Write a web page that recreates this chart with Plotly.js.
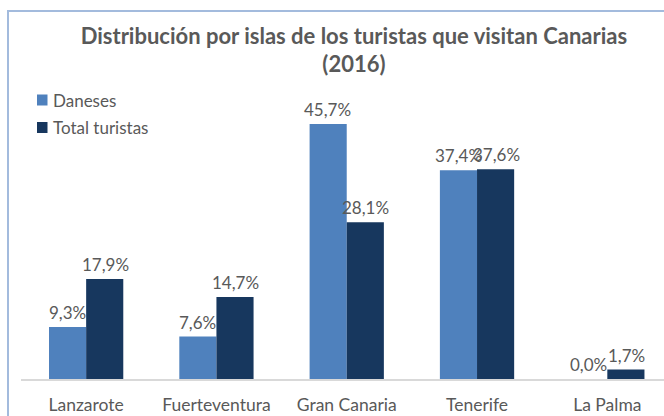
<!DOCTYPE html>
<html>
<head>
<meta charset="utf-8">
<script src="https://cdn.plot.ly/plotly-3.0.1.min.js"></script>
<style>
html,body{margin:0;padding:0;background:#fff;overflow:hidden;}
#wrap{position:relative;width:664px;height:416px;}
#chart{position:absolute;left:0;top:0;width:664px;height:416px;}
#frame{position:absolute;left:7px;top:10px;width:700px;height:450px;border-left:2px solid #a3bbdd;border-top:2px solid #a3bbdd;pointer-events:none;}
</style>
</head>
<body>
<div id="wrap"><div id="chart"></div><div id="frame"></div></div>
<script>
const islands = ["Lanzarote", "Fuerteventura", "Gran Canaria", "Tenerife", "La Palma"];
const daneses = [9.3, 7.6, 45.7, 37.4, 0.0];
const totalTuristas = [17.9, 14.7, 28.1, 37.6, 1.7];
const seriesNames = ["Daneses", "Total turistas"];
const seriesColors = ["#4f81bd", "#17375e"];

const FONT = "Lato, 'Liberation Sans', Arial, sans-serif";
const txtColor = "#595959";

// plot area geometry (pixels)
const L = 21, T = 100, B = 37, W = 664, H = 416;
const PW = W - L, PH = H - T - B;
const px2x = p => (p - L) / PW;
const px2y = p => (H - B - p) / PH;

const traces = [
  {type:"bar", name:seriesNames[0], x:islands, y:daneses, marker:{color:seriesColors[0]}, hoverinfo:"none"},
  {type:"bar", name:seriesNames[1], x:islands, y:totalTuristas, marker:{color:seriesColors[1]}, hoverinfo:"none"}
];

const fmt = v => v.toFixed(1).replace(".", ",") + "%";
const annotations = [];
[daneses, totalTuristas].forEach((vals, s) => {
  vals.forEach((v, i) => {
    annotations.push({x:islands[i], y:v, xref:"x", yref:"y", text:fmt(v), showarrow:false,
      xanchor:"center", yanchor:"bottom", xshift:(s === 0 ? -19 : 19), yshift:2,
      font:{family:FONT, size:17, color:txtColor}});
  });
});

// custom legend
const shapes = [];
const legY = [100, 127.5];
seriesNames.forEach((n, k) => {
  shapes.push({type:"rect", xref:"paper", yref:"paper", x0:px2x(37), x1:px2x(47.5),
    y0:px2y(legY[k] + 5.5), y1:px2y(legY[k] - 5.5), fillcolor:seriesColors[k], line:{width:0}});
  annotations.push({xref:"paper", yref:"paper", x:px2x(51), y:px2y(legY[k]), text:n, showarrow:false,
    xanchor:"left", yanchor:"middle", font:{family:FONT, size:17, color:txtColor}});
});

const layout = {
  width:W, height:H,
  margin:{l:L, r:0, t:T, b:B, pad:0},
  paper_bgcolor:"#fff", plot_bgcolor:"#fff",
  barmode:"group", bargap:0.43, bargroupgap:0,
  title:{text:"<b>Distribución por islas de los turistas que visitan Canarias<br>(2016)</b>",
    font:{family:FONT, size:22, color:txtColor}, x:0.533, xanchor:"center", y:0.895, yanchor:"top"},
  showlegend:false,
  xaxis:{type:"category", range:[-0.5, 4.435], showline:true, linecolor:"#d9d9d9", linewidth:1.5,
    ticks:"", ticklabelstandoff:9, tickfont:{family:FONT, size:17.5, color:txtColor}, showgrid:false, zeroline:false},
  yaxis:{range:[0, 50], visible:false, showgrid:false, zeroline:false, fixedrange:true},
  annotations:annotations,
  shapes:shapes
};

Plotly.newPlot("chart", traces, layout, {displayModeBar:false, staticPlot:true});
</script>
</body>
</html>
